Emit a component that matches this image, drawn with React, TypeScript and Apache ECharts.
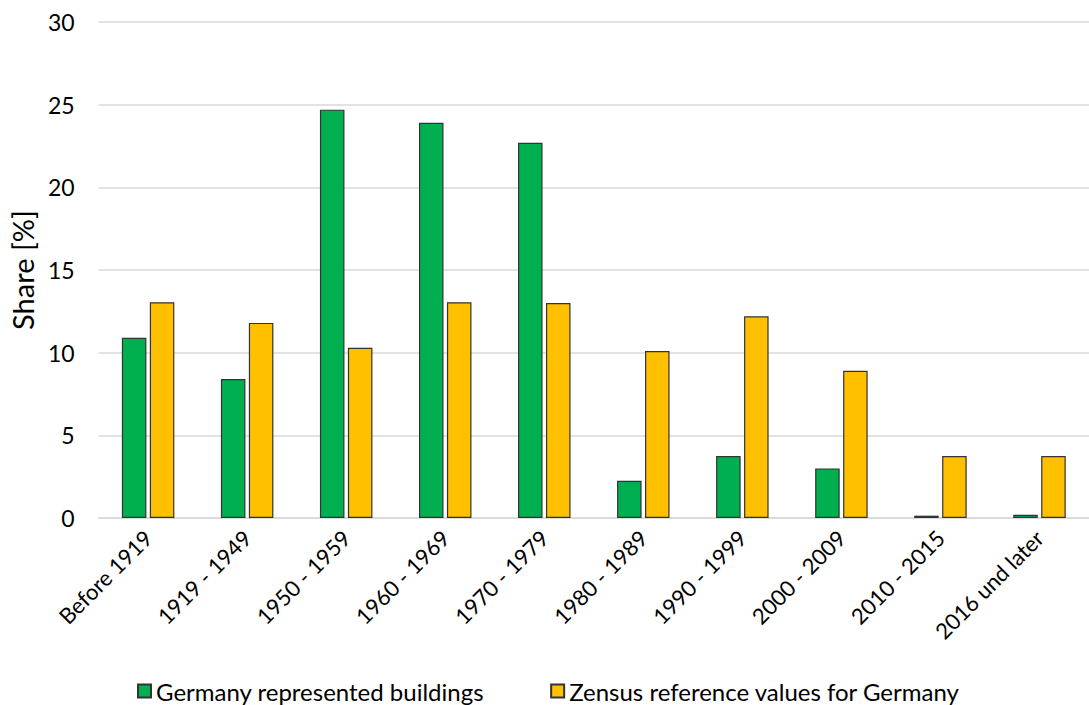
import React, { useEffect, useRef } from "react";
import * as echarts from "echarts";

const categories = [
  "Before 1919",
  "1919 - 1949",
  "1950 - 1959",
  "1960 - 1969",
  "1970 - 1979",
  "1980 - 1989",
  "1990 - 1999",
  "2000 - 2009",
  "2010 - 2015",
  "2016 und later",
];
const germanyBuildings = [10.9, 8.4, 24.7, 23.9, 22.7, 2.25, 3.75, 3.0, 0.14, 0.2];
const zensusValues = [13.05, 11.8, 10.3, 13.05, 13.0, 10.1, 12.2, 8.9, 3.75, 3.75];
const seriesNames = ["Germany represented buildings", "Zensus reference values for Germany"];

const FONT = "Lato, 'Open Sans', sans-serif";

export default function App() {
  const ref = useRef<HTMLDivElement>(null);
  useEffect(() => {
    if (!ref.current) return;
    const chart = echarts.init(ref.current, undefined, { renderer: "svg" });
    chart.setOption({
      animation: false,
      backgroundColor: "#ffffff",
      textStyle: { fontFamily: FONT, color: "#000" },
      grid: { left: 93, right: 0, top: 22, bottom: 187, containLabel: false },
      legend: {
        top: 677,
        left: 137,
        icon: "rect",
        itemWidth: 13,
        itemHeight: 13,
        itemGap: 66,
        padding: 0,
        textStyle: { fontSize: 24, lineHeight: 28, color: "#000", fontFamily: FONT },
        data: seriesNames,
      },
      xAxis: {
        type: "category",
        data: categories,
        axisLine: { show: true, lineStyle: { color: "#d9d9d9", width: 1.5 } },
        axisTick: { show: false },
        axisLabel: {
          rotate: 45,
          interval: 0,
          fontSize: 22,
          color: "#000",
          fontFamily: FONT,
          margin: 16,
        },
      },
      yAxis: {
        type: "value",
        min: 0,
        max: 30,
        interval: 5,
        name: "Share [%]",
        nameLocation: "middle",
        nameGap: 58,
        nameTextStyle: { fontSize: 29, color: "#000", fontFamily: FONT },
        axisLine: { show: false },
        axisTick: { show: false },
        axisLabel: { fontSize: 23, color: "#000", fontFamily: FONT, margin: 24 },
        splitLine: { lineStyle: { color: "#d9d9d9", width: 1.5 } },
      },
      series: [
        {
          name: seriesNames[0],
          type: "bar",
          data: germanyBuildings,
          barGap: "14%",
          barCategoryGap: "47%",
          itemStyle: { color: "#00B050", borderColor: "#333", borderWidth: 1.2 },
        },
        {
          name: seriesNames[1],
          type: "bar",
          data: zensusValues,
          barGap: "14%",
          barCategoryGap: "47%",
          itemStyle: { color: "#FFC000", borderColor: "#333", borderWidth: 1.2 },
        },
      ],
    });
    return () => chart.dispose();
  }, []);
  return (
    <div
      ref={ref}
      style={{ position: "fixed", left: 0, top: 0, width: 1089, height: 705, background: "#fff" }}
    />
  );
}
